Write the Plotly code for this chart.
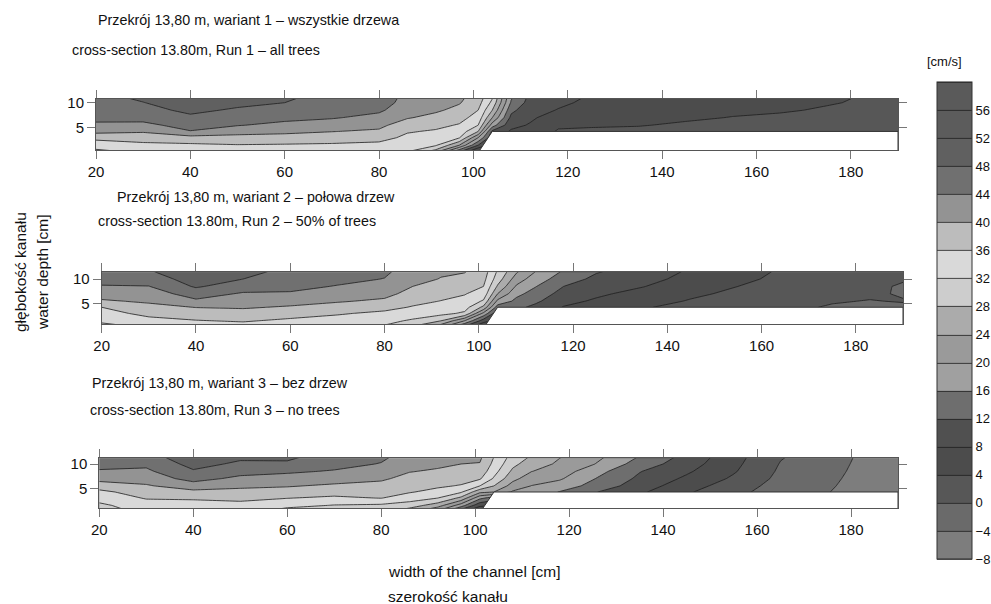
import plotly.graph_objects as go

# the page body margin is removed (post_script) so figure pixels map to window pixels
OFF = 0
W, H = 991, 604

# ---------------- data ----------------
X = [20, 30, 40, 50, 60, 70, 80, 86, 92, 97, 101, 104, 108, 112, 118, 125, 135, 145, 155, 165, 175, 183, 190]
Y = [0.4, 1.5, 3.0, 4.25, 5.5, 7.0, 8.5, 10.0, 11.5]

run1 = [
    [31.5, 33, 33.5, 33.8, 31.8, 33, 33, 33, 27, 14, 4, 4, 7.5, 6.8, 3.6, 3.5, 3.3, 2.8, 2.5, 2.2, 2.0, 1.8, 1.6],
    [33.5, 35, 35.3, 35.8, 35.6, 35.4, 35, 34, 32.5, 24, 12, 6, 7.5, 6.8, 3.6, 3.5, 3.3, 2.8, 2.5, 2.2, 2.0, 1.8, 1.6],
    [37.2, 37.8, 38.5, 38.6, 38.5, 38, 37.3, 35.2, 34.5, 32.3, 20, 9, 7.5, 6.8, 3.6, 3.5, 3.3, 2.8, 2.5, 2.2, 2.0, 1.8, 1.6],
    [41.1, 40.4, 43.8, 41.6, 40.9, 40.1, 39.4, 36.3, 35.6, 34.5, 28, 11, 7.5, 6.8, 3.6, 3.5, 3.3, 2.8, 2.5, 2.2, 2.0, 1.8, 1.6],
    [43.3, 43, 45.5, 44.2, 43, 42.1, 41, 37.8, 36.9, 35.7, 32, 18, 9, 7.7, 4.6, 4.3, 4.15, 3.6, 3.2, 2.8, 2.5, 2.2, 2.0],
    [45, 45.3, 47.3, 45.9, 45, 44.3, 42.9, 40.3, 38.8, 37.3, 34.5, 24, 11, 8.6, 6.2, 5.3, 5.0, 4.4, 3.9, 3.5, 3.1, 2.8, 2.5],
    [46, 46.8, 48.8, 47.5, 46.8, 45.5, 44.6, 41.8, 40.6, 38.9, 36, 28, 13, 9.5, 7.8, 6.3, 5.6, 5.2, 4.5, 4.3, 3.7, 3.3, 3.0],
    [46.8, 47.9, 50, 48.9, 48, 46.4, 45.5, 42.8, 41.5, 40.3, 37.5, 31, 15.5, 10.5, 8.7, 7.2, 6.1, 5.8, 5.0, 4.8, 4.2, 3.7, 3.4],
    [47.2, 49, 51, 49.8, 48.8, 47, 46, 43.2, 42, 41, 38.5, 33, 17, 11.3, 9.3, 7.8, 6.5, 6.2, 5.3, 5.1, 4.5, 3.9, 3.6],
]

run2 = [
    [30.5, 33, 34, 34.5, 33.5, 33, 31.7, 28, 22, 12, 4, 4, 13, 11, 7.8, 6.5, 4.3, 2.8, 1.8, 1.2, -0.5, -1.2, -1.0],
    [33, 35, 35.8, 36.4, 35.2, 34.5, 33.2, 31.4, 28, 20, 10, 6, 13, 11, 7.8, 6.5, 4.3, 2.8, 1.8, 1.2, -0.5, -1.2, -1.0],
    [34.8, 36.9, 38.2, 38.6, 37.8, 36.4, 35.2, 34.1, 33.2, 31.3, 19, 9, 13, 11, 7.8, 6.5, 4.3, 2.8, 1.8, 1.2, -0.5, -1.2, -1.0],
    [36, 38.8, 40.1, 40.4, 39.6, 38.4, 37.2, 35.7, 35, 33.6, 27, 14, 13, 11, 7.8, 6.5, 4.3, 2.8, 1.8, 1.2, -0.5, -1.2, -1.0],
    [39.5, 40.6, 43.4, 41.9, 41.4, 40.4, 39.3, 37.1, 35.9, 35, 31.5, 19, 15, 12.8, 9, 7.5, 5.5, 3.7, 2.4, 1.6, 0.4, -0.2, 0.3],
    [41.8, 42.3, 45.6, 43.6, 43.6, 42.3, 41.2, 38.6, 37.2, 36.2, 34.5, 24, 17, 14.5, 10.5, 8.6, 6.8, 4.7, 3.2, 2.2, 1.2, 0.8, -0.5],
    [43.7, 43.9, 48.5, 45.8, 45, 43.8, 42.8, 40, 38.8, 37.6, 36, 27.5, 19.5, 16.2, 12, 9.8, 8.1, 5.8, 4.0, 2.7, 1.8, 1.2, -0.6],
    [45.5, 45.8, 50, 48, 46, 45, 43.9, 41.5, 39.8, 39, 37.2, 30, 22, 18, 14, 11, 9.2, 6.8, 4.8, 3.1, 2.2, 1.4, 0.5],
    [46.5, 47.6, 51, 49.3, 46.8, 45.7, 44.6, 42.3, 40.6, 40.2, 38, 31.5, 24.5, 20, 15.5, 12.3, 10, 7.5, 5.5, 3.4, 2.5, 1.6, 1.0],
]

run3 = [
    [30.5, 33, 33.5, 33.8, 30.5, 30, 29.5, 26, 20, 10, 4, 4, 19.5, 18.6, 15.8, 12.4, 8.7, 4.5, 1.2, -2, -3.8, -6.5, -7.6],
    [31.2, 34.2, 34.7, 35, 33.2, 31.8, 31.3, 30, 26, 18, 9, 8, 19.5, 18.6, 15.8, 12.4, 8.7, 4.5, 1.2, -2, -3.8, -6.5, -7.6],
    [33.5, 36.3, 36.4, 36.8, 36.1, 35.3, 36.1, 34, 32, 27, 17, 14, 19.5, 18.6, 15.8, 12.4, 8.7, 4.5, 1.2, -2, -3.8, -6.5, -7.6],
    [35, 38, 39, 38.8, 38.4, 37.5, 37.5, 36.3, 34.8, 32.5, 25, 24, 19.5, 18.6, 15.8, 12.4, 8.7, 4.5, 1.2, -2, -3.8, -6.5, -7.6],
    [37.9, 39.6, 42, 40.8, 40.3, 39.4, 38.8, 37.5, 36.6, 35.7, 32, 28, 22.3, 19.9, 18.2, 14.8, 10, 5.8, 2.0, -1.5, -3.4, -6, -7.2],
    [41.4, 41.6, 45.5, 43, 42.5, 41.6, 40.6, 38.8, 38, 37.5, 36.5, 31.5, 25.2, 21.8, 20.5, 16.3, 11.2, 7.3, 3.4, -1, -3.1, -5.5, -6.8],
    [43.6, 43.3, 47.6, 45.5, 44.6, 43.7, 42.3, 40.2, 39.5, 38.8, 38.5, 33.5, 27.2, 24.1, 22, 17.9, 12.2, 8.6, 4.4, -0.6, -2.8, -5.2, -6.5],
    [45.3, 44.8, 49.3, 47.3, 47.4, 45.3, 43.8, 41.5, 40.8, 40, 39.8, 35, 29, 26, 23.3, 20.3, 14.2, 9.8, 5.0, -0.2, -2.5, -5, -6.3],
    [46.5, 46.5, 50.5, 48.8, 48.8, 46.3, 44.8, 42.4, 41.5, 41, 40.8, 36, 30.5, 27.6, 24.2, 21.5, 15.8, 10.8, 5.5, 0.3, -2.2, -4.8, -6.1],
]

# channel bed (bank slope and floodplain level), below which no water
bed_x = [101, 104, 190]
bed_y = [0.0, 4.25, 4.25]

x_ticks = [20, 40, 60, 80, 100, 120, 140, 160, 180]
y_ticks = [5, 10]
cbar_ticks = [-8, -4, 0, 4, 8, 12, 16, 20, 24, 28, 32, 36, 40, 44, 48, 52, 56]

lev_start, lev_end, lev_step = -8, 60, 4
band_colors = ['#7d7d7d', '#6a6a6a', '#575757', '#4c4c4c', '#505050', '#6e6e6e',
               '#a0a0a0', '#9a9a9a', '#ababab', '#cdcdcd', '#d9d9d9', '#bcbcbc',
               '#939393', '#707070', '#606060', '#5c5c5c', '#5a5a5a']

titles_pl = ["Przekrój 13,80 m, wariant 1 – wszystkie drzewa",
             "Przekrój 13,80 m, wariant 2 – połowa drzew",
             "Przekrój 13,80 m, wariant 3 – bez drzew"]
titles_en = ["cross-section 13.80m, Run 1 – all trees",
             "cross-section 13.80m, Run 2 – 50% of trees",
             "cross-section 13.80m, Run 3 – no trees"]

# ---------------- styling / layout ----------------
FONT = "Liberation Sans, Arial, sans-serif"

def px(xp):
    return (xp - OFF) / W

def py(yp):
    return 1 - (yp - OFF) / H

# discrete colorscale: with zmin/zmax = level start/end, colorscale 0..1 maps to -8..60
cscale = []
n = len(band_colors)
span = float(lev_end - lev_start)
for k, c in enumerate(band_colors):
    lo = 0.0 if k == 0 else (lev_step * k) / span
    hi = 1.0 if k == n - 1 else (lev_step * (k + 1)) / span
    cscale.append([lo, c])
    cscale.append([hi, c])

panels = [
    dict(x0=96, x1=898, y0=99, y1=150, yr=[0.54, 10.74], z=run1),
    dict(x0=101.7, x1=903, y0=272.3, y1=324, yr=[0.84, 11.37], z=run2),
    dict(x0=99.3, x1=898, y0=458.3, y1=508.3, yr=[0.9, 11.17], z=run3),
]

# colour bar geometry (window px)
CB_X0, CB_X1, CB_TOP, CB_BOT = 937, 972, 82, 559

fig = go.Figure()
layout = dict(width=W, height=H, autosize=False,
              margin=dict(l=0, r=0, t=0, b=0, autoexpand=False),
              paper_bgcolor='white', plot_bgcolor='white',
              font=dict(family=FONT, size=15, color='#111'),
              showlegend=False)

for i, p in enumerate(panels):
    sfx = '' if i == 0 else str(i + 1)
    xa, ya = 'x' + sfx, 'y' + sfx
    fig.add_trace(go.Contour(
        x=X, y=Y, z=p['z'], xaxis=xa, yaxis=ya,
        autocontour=False, zmin=lev_start, zmax=lev_end,
        contours=dict(start=lev_start, end=lev_end, size=lev_step,
                      coloring='fill', showlines=True),
        line=dict(color='#1e1e1e', width=0.8, smoothing=0),
        colorscale=cscale,
        showscale=(i == 0),
        colorbar=dict(x=px(CB_X0), xanchor='left', xpad=0, ypad=0,
                      y=(py(CB_TOP) + py(CB_BOT)) / 2, yanchor='middle',
                      len=(CB_BOT - CB_TOP) / H, lenmode='fraction',
                      thickness=CB_X1 - CB_X0, thicknessmode='pixels',
                      outlinewidth=1, outlinecolor='#333',
                      tickvals=cbar_ticks, ticks='', ticklen=0,
                      ticklabeloverflow='allow',
                      tickfont=dict(size=13, family=FONT, color='#111')),
        hoverinfo='skip'))
    poly_x = bed_x + [bed_x[-1], bed_x[0], bed_x[0]]
    poly_y = bed_y + [-1, -1, bed_y[0]]
    fig.add_trace(go.Scatter(
        x=poly_x, y=poly_y, xaxis=xa, yaxis=ya, mode='lines',
        fill='toself', fillcolor='white',
        line=dict(color='#333', width=1), hoverinfo='skip'))

    layout['xaxis' + sfx] = dict(
        domain=[px(p['x0']), px(p['x1'])], range=[20, 190], anchor=ya,
        tickvals=x_ticks, ticks='outside', ticklen=8, tickcolor='#777', tickwidth=1,
        showline=True, linecolor='#555', linewidth=1, mirror='ticks',
        showgrid=False, zeroline=False, tickfont=dict(size=15))
    layout['yaxis' + sfx] = dict(
        domain=[py(p['y1']), py(p['y0'])], range=p['yr'], anchor=xa,
        tickvals=y_ticks, ticks='outside', ticklen=8, tickcolor='#777', tickwidth=1,
        showline=True, linecolor='#555', linewidth=1, mirror='ticks',
        showgrid=False, zeroline=False, tickfont=dict(size=15))

ann = []
def txt(s, xpx, ypx, angle=0, anchor='left', size=14.3):
    ann.append(dict(text=s, x=px(xpx), y=py(ypx), xref='paper', yref='paper',
                    showarrow=False, xanchor=anchor, yanchor='middle',
                    textangle=angle, font=dict(size=size, family=FONT, color='#111')))

txt(titles_pl[0], 96, 20)
txt(titles_en[0], 70, 50)
txt(titles_pl[1], 115, 197)
txt(titles_en[1], 96, 221)
txt(titles_pl[2], 90, 383)
txt(titles_en[2], 88, 410)
txt("width of the channel [cm]", 386, 571, size=15.5)
txt("szerokość kanału", 386, 596, size=15.5)
txt("głębokość kanału", 20, 272, angle=-90, anchor='center', size=15.5)
txt("water depth [cm]", 42, 272, angle=-90, anchor='center', size=15.5)
txt("[cm/s]", 925, 62, size=13)
layout['annotations'] = ann

fig.update_layout(**layout)
fig.write_html("out.html",
               config={'displayModeBar': False},
               post_script="document.body.style.margin='0px';"
                           "document.body.style.overflow='hidden';")
